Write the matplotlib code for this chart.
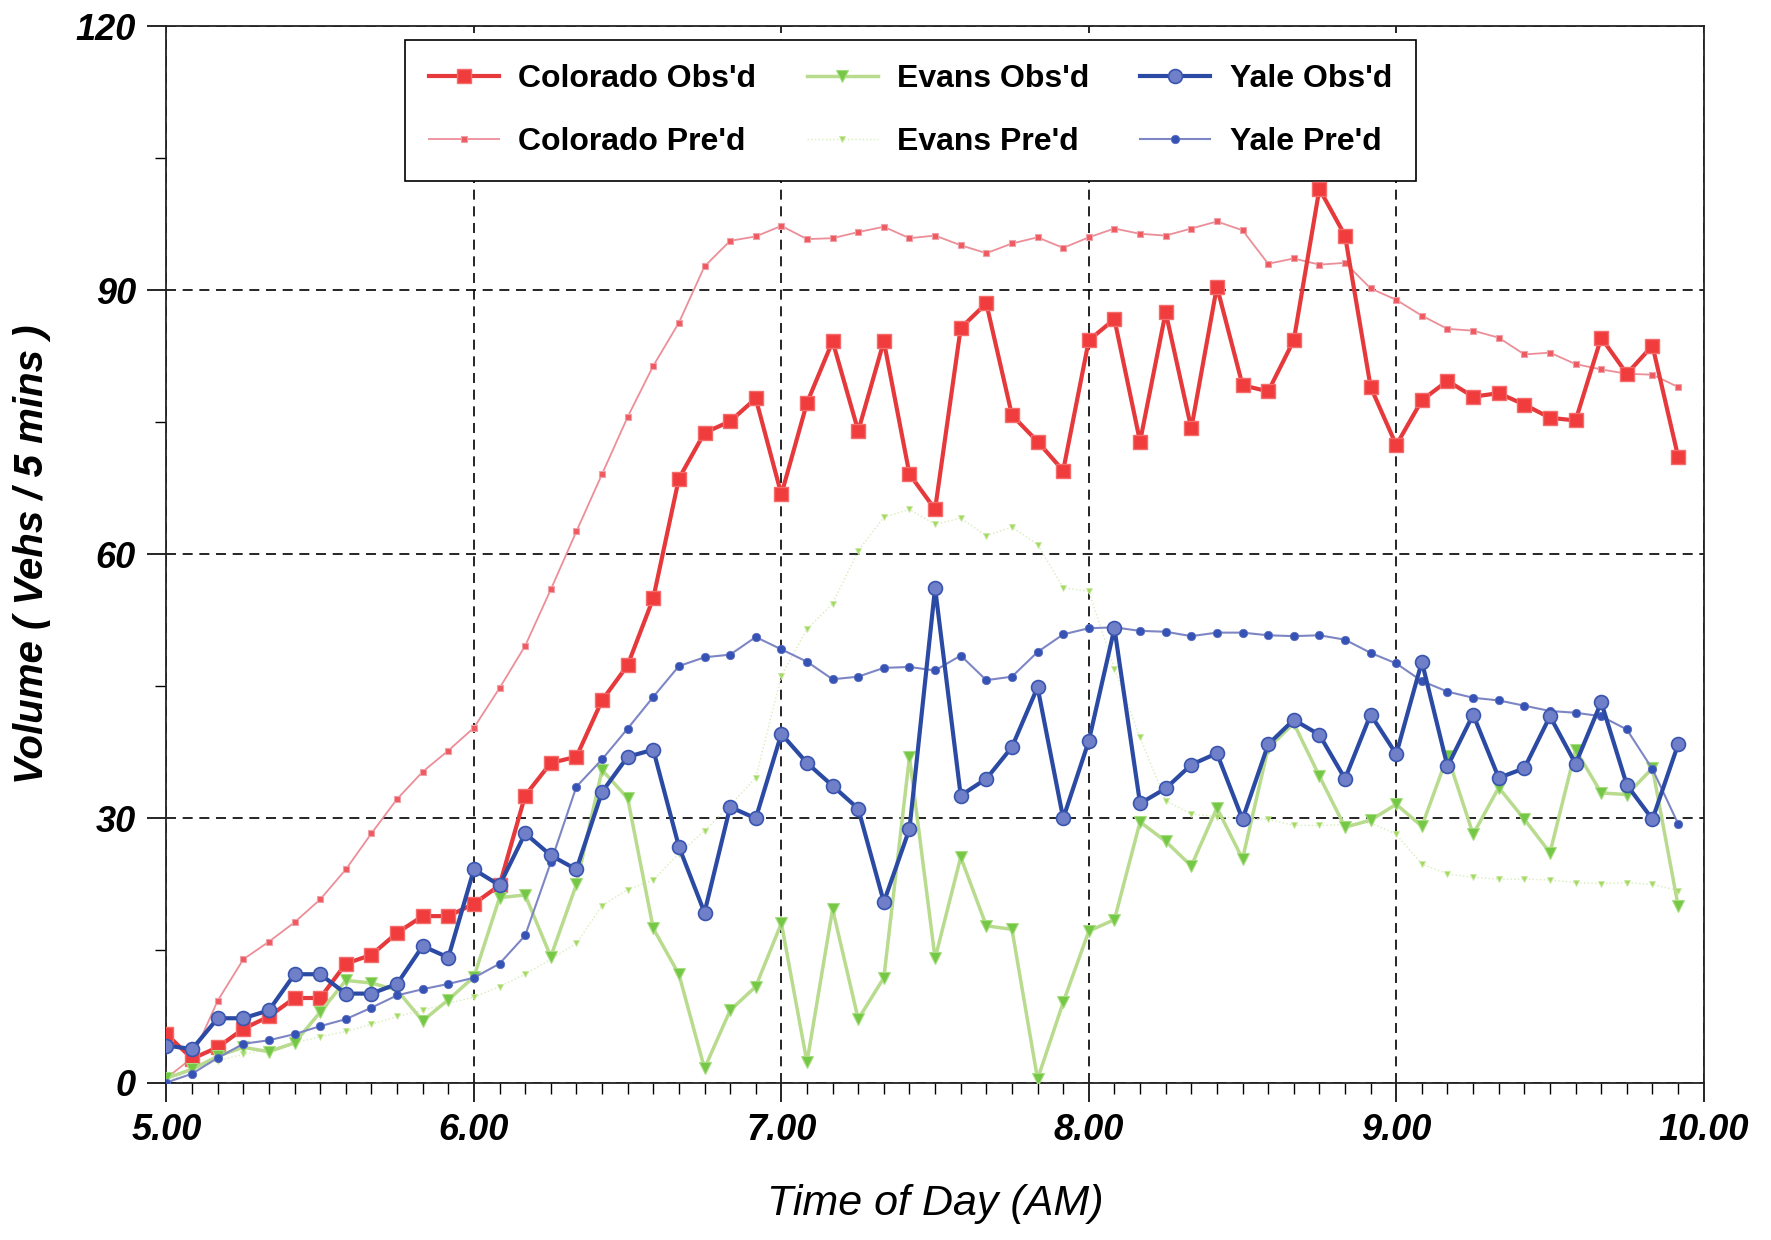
import numpy as np
import matplotlib
matplotlib.use("Agg")
import matplotlib.pyplot as plt
from matplotlib.ticker import MultipleLocator, FormatStrFormatter

# 5-minute counts, 5:00 to 9:55 AM
hours = 5 + np.arange(60) * 5 / 60

colorado_obs = [5.5, 2.7, 4.0, 6.1, 7.5, 9.6, 9.6, 13.5, 14.5, 17, 18.9, 18.9,
                20.3, 22.4, 32.6, 36.3, 37, 43.4, 47.4, 55, 68.6, 73.8, 75.1, 77.7,
                66.8, 77.2, 84.2, 74, 84.2, 69.1, 65.1, 85.7, 88.5, 75.8, 72.8, 69.5,
                84.3, 86.7, 72.8, 87.5, 74.3, 90.4, 79.2, 78.5, 84.3, 101.5, 96.2, 79,
                72.4, 77.5, 79.7, 77.9, 78.3, 77.0, 75.5, 75.2, 84.6, 80.5, 83.7, 71.1]
colorado_pred = [0.5, 2.8, 9.3, 14, 16, 18.2, 20.8, 24.2, 28.3, 32.2, 35.3, 37.7,
                 40.3, 44.8, 49.6, 56, 62.6, 69.1, 75.6, 81.4, 86.3, 92.7, 95.6, 96.1,
                 97.3, 95.8, 95.9, 96.6, 97.2, 95.9, 96.2, 95.1, 94.2, 95.3, 96, 94.8,
                 96, 97, 96.4, 96.2, 97, 97.8, 96.8, 93.0, 93.6, 92.9, 93.1, 90.2,
                 88.9, 87.1, 85.6, 85.4, 84.6, 82.7, 82.9, 81.6, 81, 80.5, 80.4, 79.0]
evans_obs = [0.5, 1.5, 3, 4, 3.5, 4.5, 8, 11.6, 11.3, 10.5, 7, 9.4,
             12, 21, 21.3, 14.3, 22.5, 35.5, 32.3, 17.5, 12.3, 1.6, 8.2, 10.9,
             18.1, 2.3, 19.7, 7.2, 11.9, 37, 14.1, 25.6, 17.8, 17.4, 0.4, 9.1,
             17.2, 18.5, 29.6, 27.4, 24.6, 31.2, 25.4, 38, 40.8, 34.8, 29, 29.8,
             31.6, 29.1, 37.1, 28.2, 33.5, 29.9, 26.1, 37.8, 32.9, 32.7, 35.7, 20.1]
evans_pred = [0, 1.5, 2.5, 3.2, 3.8, 4.5, 5.2, 5.8, 6.6, 7.5, 8.2, 9,
              9.7, 10.9, 12.3, 14, 15.8, 20.1, 21.9, 23, 26, 28.6, 31.5, 34.6,
              46.2, 51.5, 54.4, 60.4, 64.2, 65.1, 63.4, 64.1, 62.1, 63.1, 61.1, 56.2,
              55.8, 47, 39.2, 32, 30.5, 30.2, 30, 29.9, 29.2, 29.2, 29.3, 29.5,
              28.2, 24.8, 23.7, 23.3, 23.1, 23.1, 23.0, 22.7, 22.6, 22.7, 22.5, 21.8]
yale_obs = [4.2, 3.8, 7.3, 7.3, 8.2, 12.3, 12.3, 10.1, 10.1, 11.2, 15.5, 14.2,
            24.2, 22.4, 28.3, 25.8, 24.2, 33, 37, 37.8, 26.8, 19.3, 31.3, 30,
            39.6, 36.3, 33.7, 31.1, 20.5, 28.8, 56.2, 32.6, 34.5, 38.1, 44.9, 30,
            38.8, 51.6, 31.7, 33.4, 36.1, 37.4, 29.9, 38.4, 41.2, 39.5, 34.5, 41.8,
            37.3, 47.8, 35.9, 41.8, 34.6, 35.7, 41.6, 36.2, 43.2, 33.8, 29.9, 38.4]
yale_pred = [0, 1.0, 2.8, 4.4, 4.8, 5.5, 6.4, 7.2, 8.5, 9.9, 10.6, 11.2,
             11.9, 13.5, 16.7, 25, 33.6, 36.7, 40.2, 43.8, 47.3, 48.3, 48.6, 50.6,
             49.2, 47.8, 45.8, 46.1, 47.1, 47.2, 46.8, 48.5, 45.7, 46.1, 48.9, 50.9,
             51.6, 51.7, 51.3, 51.2, 50.7, 51.1, 51.1, 50.8, 50.7, 50.8, 50.3, 48.8,
             47.6, 45.6, 44.4, 43.7, 43.4, 42.8, 42.2, 42.0, 41.6, 40.1, 35.6, 29.4]

plt.rcParams['font.family'] = ['Liberation Sans', 'DejaVu Sans']

fig = plt.figure(figsize=(17.71, 12.40), dpi=100)
ax = fig.add_axes([0.094, 0.127, 0.868, 0.852])

ax.plot(hours, colorado_pred, color="#ec8e98", lw=1.3, marker="s", ms=5,
        mfc="#ee5a5e", mec="#f0a0a8", mew=0.8, label="Colorado Pre'd", zorder=3)
ax.plot(hours, colorado_obs, color="#e6393c", lw=3, marker="s", ms=10,
        mfc="#f03c3c", mec="#f56a6a", mew=1, label="Colorado Obs'd", zorder=4)
ax.plot(hours, evans_pred, color="#d8ecbc", lw=1, ls=":", marker="v", ms=5,
        mfc="#a3d95e", mec="#c8e8a0", mew=0.6, label="Evans Pre'd", zorder=3)
ax.plot(hours, evans_obs, color="#b8db8e", lw=2.5, marker="v", ms=9,
        mfc="#74c845", mec="#a8dc80", mew=0.8, label="Evans Obs'd", zorder=4)
ax.plot(hours, yale_pred, color="#7d86c4", lw=1.5, marker="o", ms=6,
        mfc="#3552b5", mec="#5a6cc0", mew=0.6, label="Yale Pre'd", zorder=5)
ax.plot(hours, yale_obs, color="#2b4aa3", lw=3, marker="o", ms=10,
        mfc="#6f7fc8", mec="#3a55b0", mew=1.2, label="Yale Obs'd", zorder=6)

ax.set_xlim(5, 10)
ax.set_ylim(0, 120)
ax.xaxis.set_major_locator(MultipleLocator(1))
ax.xaxis.set_minor_locator(MultipleLocator(1 / 12))
ax.yaxis.set_major_locator(MultipleLocator(30))
ax.yaxis.set_minor_locator(MultipleLocator(15))
ax.xaxis.set_major_formatter(FormatStrFormatter("%.2f"))
ax.tick_params(axis="both", which="major", direction="out", length=14, width=1.2,
               labelsize=26, pad=8)
ax.tick_params(axis="x", which="minor", direction="out", length=8, width=1)
ax.tick_params(axis="y", which="minor", direction="out", length=8, width=1)
for lab in ax.get_xticklabels() + ax.get_yticklabels():
    lab.set_fontweight("bold")
    lab.set_fontstyle("italic")

ax.grid(True, which="major", color="black", ls=(0, (6, 4)), lw=1.2)
for s in ax.spines.values():
    s.set_linewidth(1.3)
    s.set_color("#222222")

ax.set_xlabel("Time of Day (AM)", fontsize=31, fontstyle="italic", labelpad=26)
ax.set_ylabel("Volume ( Vehs / 5 mins )", fontsize=29, fontstyle="italic",
              fontweight="bold", labelpad=18)

h, l = ax.get_legend_handles_labels()
order = ["Colorado Obs'd", "Colorado Pre'd", "Evans Obs'd", "Evans Pre'd",
         "Yale Obs'd", "Yale Pre'd"]
hd = dict(zip(l, h))
leg = ax.legend([hd[k] for k in order], order, ncol=3, loc="upper left",
                bbox_to_anchor=(0.155, 0.987), borderaxespad=0, fancybox=False,
                framealpha=1, edgecolor="black",
                prop={"weight": "bold", "size": 23},
                handlelength=2.2, columnspacing=1.6, labelspacing=1.05,
                borderpad=0.75, handletextpad=0.6)
leg.get_frame().set_linewidth(1.2)
leg.set_zorder(2)

fig.savefig("out.png", dpi=100)
